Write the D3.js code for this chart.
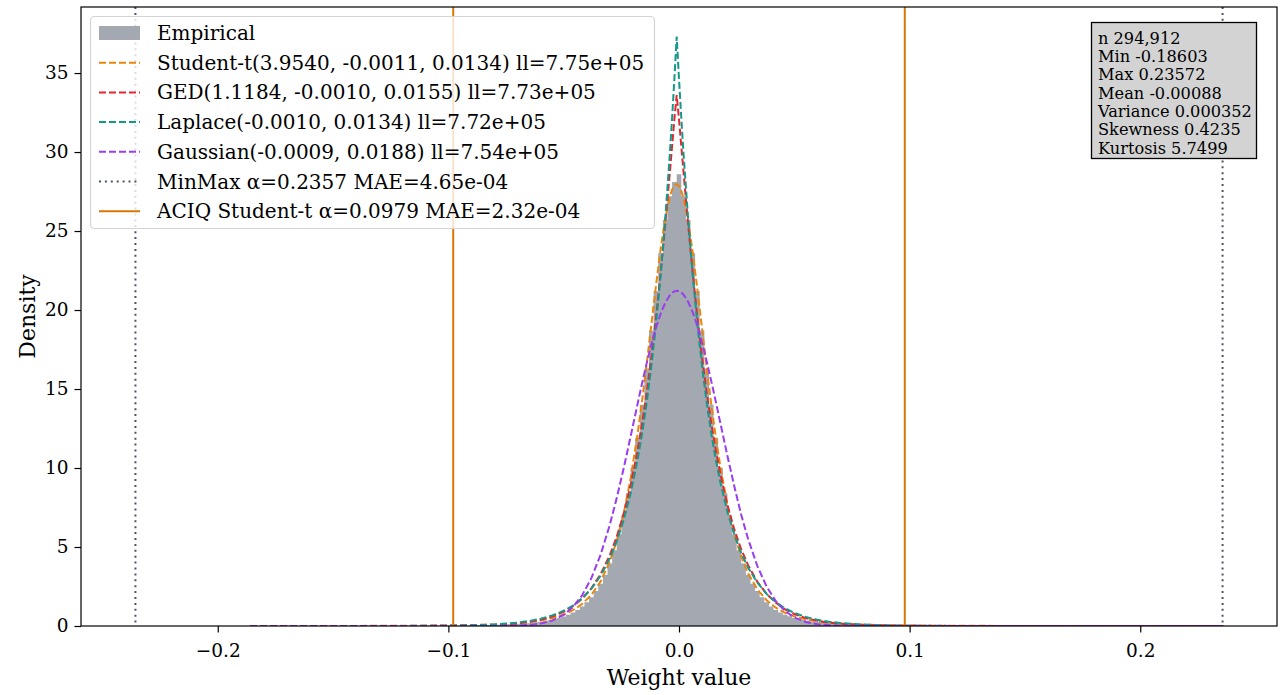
<!DOCTYPE html>
<html>
<head>
<meta charset="utf-8">
<script src="https://cdn.jsdelivr.net/npm/d3@7"></script>
<style>
  html, body { margin: 0; padding: 0; background: #ffffff; }
  svg { display: block; }
  text { font-family: "DejaVu Serif", serif; fill: #000; }
</style>
</head>
<body>
<svg id="chart" width="1286" height="695"></svg>
<script>
// ---------------- DATA ----------------
// x grid on which the fitted densities are read
const xs = [-0.186, -0.16, -0.14, -0.12, -0.10, -0.09, -0.08, -0.07, -0.065, -0.06, -0.055, -0.05,
  -0.046, -0.042, -0.038, -0.034, -0.030, -0.027, -0.024, -0.021, -0.018, -0.016, -0.014, -0.012,
  -0.010, -0.008, -0.006, -0.004, -0.003, -0.002, -0.001, 0.000, 0.001, 0.002, 0.004, 0.006, 0.008,
  0.010, 0.012, 0.014, 0.016, 0.018, 0.021, 0.024, 0.027, 0.030, 0.034, 0.038, 0.042, 0.046, 0.05,
  0.055, 0.06, 0.065, 0.07, 0.08, 0.09, 0.10, 0.12, 0.14, 0.16, 0.19, 0.236];

const studentT = [0.0018, 0.0038, 0.0072, 0.0150, 0.0354, 0.0578, 0.0990, 0.179, 0.247, 0.347, 0.496, 0.726,
  0.999, 1.394, 1.971, 2.822, 4.075, 5.384, 7.107, 9.328, 12.11, 14.26, 16.60, 19.07,
  21.52, 23.82, 25.76, 27.16, 27.62, 27.89, 27.97, 27.85, 27.54, 27.05, 25.58, 23.60, 21.28,
  18.82, 16.36, 14.03, 11.90, 10.02, 7.65, 5.80, 4.39, 3.326, 2.313, 1.626, 1.158, 0.836, 0.612,
  0.423, 0.298, 0.214, 0.156, 0.0875, 0.0517, 0.0320, 0.0137, 0.0067, 0.0035, 0.0015, 0.0005];

const ged = [0, 0.00005, 0.0003, 0.0019, 0.0118, 0.0288, 0.0695, 0.1657, 0.2544, 0.389, 0.592, 0.897,
  1.248, 1.729, 2.384, 3.275, 4.481, 5.650, 7.099, 8.890, 11.09, 12.82, 14.78, 17.00,
  19.50, 22.28, 25.35, 28.66, 30.37, 32.08, 33.61, 32.08, 30.37, 28.66, 25.35, 22.28, 19.50,
  17.00, 14.78, 12.82, 11.09, 9.575, 7.653, 6.097, 4.843, 3.835, 2.796, 2.031, 1.468, 1.058, 0.761,
  0.501, 0.328, 0.2146, 0.1396, 0.0583, 0.0241, 0.0099, 0.0016, 0.0002, 0.00004, 0, 0];

const laplace = [0.00004, 0.00026, 0.0012, 0.0052, 0.023, 0.0487, 0.1025, 0.2165, 0.3144, 0.4567, 0.663, 0.963,
  1.298, 1.749, 2.359, 3.178, 4.287, 5.362, 6.705, 8.387, 10.49, 12.18, 14.14, 16.42,
  19.06, 22.13, 25.69, 29.83, 32.14, 34.63, 37.31, 34.63, 32.14, 29.83, 25.69, 22.13, 19.06,
  16.42, 14.14, 12.18, 10.49, 9.036, 7.223, 5.775, 4.616, 3.690, 2.739, 2.032, 1.507, 1.119, 0.830,
  0.571, 0.393, 0.271, 0.1864, 0.0885, 0.0419, 0.0199, 0.0045, 0.0010, 0.0002, 0.00002, 0];

const gaussian = [0, 0, 0, 0, 0.00002, 0.0003, 0.0030, 0.0247, 0.0634, 0.1517, 0.338, 0.701,
  1.195, 1.945, 3.028, 4.503, 6.404, 8.095, 9.973, 11.98, 14.03, 15.37, 16.64, 17.82,
  18.87, 19.76, 20.45, 20.93, 21.09, 21.18, 21.22, 21.20, 21.11, 20.97, 20.51, 19.84, 18.97,
  17.93, 16.76, 15.50, 14.17, 12.80, 10.77, 8.83, 7.02, 5.49, 3.79, 2.49, 1.57, 0.946, 0.543,
  0.255, 0.1117, 0.0457, 0.0174, 0.0020, 0.0002, 0, 0, 0, 0, 0, 0];

// Empirical histogram (density per bin), bins of equal width starting at histBinStart
const histBinStart = -0.091;
const histBinWidth = 0.002;
const empirical = [0.043, 0.048, 0.054, 0.060, 0.067, 0.075, 0.085, 0.095, 0.11, 0.12, 0.14, 0.16,
  0.18, 0.205, 0.235, 0.27, 0.32, 0.37, 0.43, 0.50, 0.60, 0.71, 0.85, 1.02, 1.24, 1.50, 1.82, 2.21,
  2.68, 3.25, 3.95, 4.8, 5.8, 7.0, 8.4, 10.0, 11.9, 14.0, 16.3, 18.7, 21.2, 23.6, 25.7, 27.2, 28.1,
  28.6, 27.2, 25.7, 23.6, 21.2, 18.7, 16.3, 14.0, 11.9, 10.0, 8.4, 7.0, 5.8, 4.8, 3.95, 3.25, 2.68,
  2.21, 1.82, 1.50, 1.24, 1.02, 0.86, 0.72, 0.61, 0.52, 0.45, 0.39, 0.34, 0.29, 0.25, 0.22, 0.195,
  0.17, 0.15, 0.13, 0.12, 0.105, 0.095, 0.085, 0.075, 0.068, 0.061, 0.055, 0.05, 0.045];

const minMaxAlpha = 0.2357;
const aciqAlpha = 0.0979;

const xTicks = [-0.2, -0.1, 0.0, 0.1, 0.2];
const yTicks = [0, 5, 10, 15, 20, 25, 30, 35];

const legendLabels = [
  "Empirical",
  "Student-t(3.9540, -0.0011, 0.0134) ll=7.75e+05",
  "GED(1.1184, -0.0010, 0.0155) ll=7.73e+05",
  "Laplace(-0.0010, 0.0134) ll=7.72e+05",
  "Gaussian(-0.0009, 0.0188) ll=7.54e+05",
  "MinMax α=0.2357 MAE=4.65e-04",
  "ACIQ Student-t α=0.0979 MAE=2.32e-04"
];

const statsLines = ["n 294,912", "Min -0.18603", "Max 0.23572", "Mean -0.00088",
  "Variance 0.000352", "Skewness 0.4235", "Kurtosis 5.7499"];

// ---------------- LAYOUT ----------------
const W = 1286, H = 695;
const plot = { left: 81, right: 1277, top: 7, bottom: 626 };
const colors = {
  hist: "#a3a8b1",
  t: "#e8870e",
  ged: "#e5262f",
  laplace: "#14998a",
  gauss: "#9a3cf0",
  minmax: "#4a5568",
  aciq: "#d97706"
};

const svg = d3.select("#chart");
svg.append("rect").attr("width", W).attr("height", H).attr("fill", "#fff");

const x = d3.scaleLinear().domain([-0.2593, 0.2593]).range([plot.left, plot.right]);
const y = d3.scaleLinear().domain([0, 39.18]).range([plot.bottom, plot.top]);

svg.append("defs").append("clipPath").attr("id", "clip")
  .append("rect").attr("x", plot.left).attr("y", plot.top)
  .attr("width", plot.right - plot.left).attr("height", plot.bottom - plot.top);

const g = svg.append("g").attr("clip-path", "url(#clip)");

// histogram as stepped area
const histData = empirical.map((v, i) => ({ x0: histBinStart + i * histBinWidth, v }));
histData.push({ x0: histBinStart + empirical.length * histBinWidth, v: empirical[empirical.length - 1] });
g.append("path")
  .datum(histData)
  .attr("fill", colors.hist)
  .attr("stroke", "none")
  .attr("d", d3.area().x(d => x(d.x0)).y0(y(0)).y1(d => y(d.v)).curve(d3.curveStepAfter));

// fitted curves
const line = d3.line().x(d => x(d[0])).y(d => y(d[1]));
const series = [
  { vals: studentT, color: colors.t },
  { vals: ged, color: colors.ged },
  { vals: laplace, color: colors.laplace },
  { vals: gaussian, color: colors.gauss }
];
series.forEach(s => {
  g.append("path")
    .datum(xs.map((xv, i) => [xv, s.vals[i]]))
    .attr("fill", "none")
    .attr("stroke", s.color)
    .attr("stroke-width", 2)
    .attr("stroke-dasharray", "7,3")
    .attr("d", line);
});

// vertical lines
[-minMaxAlpha, minMaxAlpha].forEach(a => {
  g.append("line")
    .attr("x1", x(a)).attr("x2", x(a)).attr("y1", plot.top).attr("y2", plot.bottom)
    .attr("stroke", colors.minmax).attr("stroke-width", 2)
    .attr("stroke-dasharray", "2,3.9");
});
[-aciqAlpha, aciqAlpha].forEach(a => {
  g.append("line")
    .attr("x1", x(a)).attr("x2", x(a)).attr("y1", plot.top).attr("y2", plot.bottom)
    .attr("stroke", colors.aciq).attr("stroke-width", 2);
});

// axes
const xAxis = d3.axisBottom(x).tickValues(xTicks).tickFormat(d3.format(".1f"))
  .tickSize(6.5).tickPadding(11).tickSizeOuter(0);
const xg = svg.append("g").attr("transform", `translate(0,${plot.bottom})`).call(xAxis);
xg.select(".domain").remove();
xg.selectAll("text").attr("font-size", 18.5).attr("font-family", "DejaVu Serif");
xg.selectAll("line").attr("stroke", "#000").attr("stroke-width", 1.2);

const yAxis = d3.axisLeft(y).tickValues(yTicks).tickFormat(d3.format("d"))
  .tickSize(6.5).tickPadding(6).tickSizeOuter(0);
const yg = svg.append("g").attr("transform", `translate(${plot.left},0)`).call(yAxis);
yg.select(".domain").remove();
yg.selectAll("text").attr("font-size", 18.5).attr("font-family", "DejaVu Serif");
yg.selectAll("line").attr("stroke", "#000").attr("stroke-width", 1.2);

// spines
svg.append("rect")
  .attr("x", plot.left).attr("y", plot.top)
  .attr("width", plot.right - plot.left).attr("height", plot.bottom - plot.top)
  .attr("fill", "none").attr("stroke", "#000").attr("stroke-width", 1.2);

// axis labels
svg.append("text")
  .attr("x", (plot.left + plot.right) / 2).attr("y", 685)
  .attr("text-anchor", "middle").attr("font-size", 22)
  .text("Weight value");
svg.append("text")
  .attr("transform", `translate(35,${(plot.top + plot.bottom) / 2}) rotate(-90)`)
  .attr("text-anchor", "middle").attr("font-size", 22)
  .text("Density");

// legend
const leg = svg.append("g");
leg.append("rect")
  .attr("x", 90.5).attr("y", 16.5).attr("width", 564).attr("height", 212).attr("rx", 4)
  .attr("fill", "#fff").attr("fill-opacity", 0.8)
  .attr("stroke", "#d4d4d4").attr("stroke-width", 1.2);
const legendStyles = [
  { type: "patch", color: colors.hist },
  { type: "line", color: colors.t, dash: "7,3" },
  { type: "line", color: colors.ged, dash: "7,3" },
  { type: "line", color: colors.laplace, dash: "7,3" },
  { type: "line", color: colors.gauss, dash: "7,3" },
  { type: "line", color: colors.minmax, dash: "2,3.9" },
  { type: "line", color: colors.aciq, dash: null }
];
legendLabels.forEach((lab, i) => {
  const cy = 33 + i * 29.7;
  const st = legendStyles[i];
  if (st.type === "patch") {
    leg.append("rect").attr("x", 99).attr("y", cy - 7).attr("width", 41).attr("height", 14)
      .attr("fill", st.color);
  } else {
    const l = leg.append("line").attr("x1", 99).attr("x2", 140).attr("y1", cy).attr("y2", cy)
      .attr("stroke", st.color).attr("stroke-width", 2);
    if (st.dash) l.attr("stroke-dasharray", st.dash);
  }
  leg.append("text").attr("x", 157).attr("y", cy).attr("dy", "0.35em")
    .attr("font-size", 20).text(lab);
});

// stats box
const sb = svg.append("g");
sb.append("rect").attr("x", 1091.5).attr("y", 22.5).attr("width", 165).attr("height", 136)
  .attr("fill", "#d3d3d3").attr("stroke", "#000").attr("stroke-width", 1.3);
statsLines.forEach((s, i) => {
  sb.append("text").attr("x", 1098).attr("y", 38 + i * 18.35).attr("dy", "0.35em")
    .attr("font-size", 16.2).text(s);
});
</script>
</body>
</html>
